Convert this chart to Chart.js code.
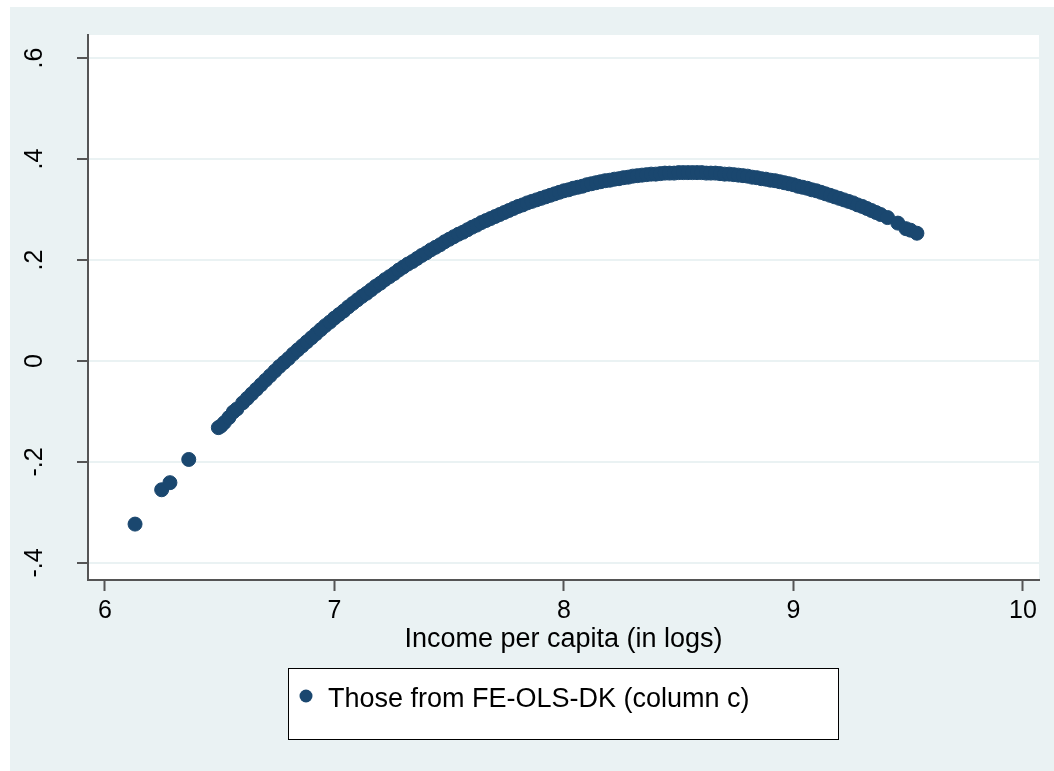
<!DOCTYPE html>
<html lang="en">
<head>
<meta charset="UTF-8" />
<title>Income per capita</title>
<script src="https://cdn.jsdelivr.net/npm/chart.js@4.4.0/dist/chart.umd.min.js"></script>
<style>
  body { margin: 0; background: #fff; }
  #board {
    position: absolute;
    left: 10px;
    top: 7px;
    width: 1044px;
    height: 764px;
    background: #eaf2f3;
  }
</style>
</head>
<body>
<div id="board">
  <canvas id="chart1"></canvas>
</div>
<script>
// x = log income per capita, y = fitted effect
const incomeLog = [
  6.131, 6.247, 6.283, 6.365, 6.494, 6.505, 6.52, 6.54, 6.559, 6.575, 6.60,
  6.62, 6.64, 6.66, 6.68, 6.70, 6.72, 6.74, 6.76, 6.78, 6.80,
  6.82, 6.84, 6.86, 6.88, 6.90, 6.92, 6.94, 6.96, 6.98, 7.00,
  7.02, 7.04, 7.06, 7.08, 7.10, 7.12, 7.14, 7.16, 7.18, 7.20,
  7.22, 7.24, 7.26, 7.28, 7.30, 7.32, 7.34, 7.36, 7.38, 7.40,
  7.42, 7.44, 7.46, 7.48, 7.50, 7.52, 7.54, 7.56, 7.58, 7.60,
  7.62, 7.64, 7.66, 7.68, 7.70, 7.72, 7.74, 7.76, 7.78, 7.80,
  7.82, 7.84, 7.86, 7.88, 7.90, 7.92, 7.94, 7.96, 7.98, 8.00,
  8.02, 8.04, 8.06, 8.08, 8.10, 8.12, 8.14, 8.16, 8.18, 8.20,
  8.22, 8.24, 8.26, 8.28, 8.30, 8.32, 8.34, 8.36, 8.38, 8.40,
  8.42, 8.44, 8.46, 8.48, 8.50, 8.52, 8.54, 8.56, 8.58, 8.60,
  8.62, 8.64, 8.66, 8.68, 8.70, 8.72, 8.74, 8.76, 8.78, 8.80,
  8.82, 8.84, 8.86, 8.88, 8.90, 8.92, 8.94, 8.96, 8.98, 9.00,
  9.02, 9.04, 9.06, 9.08, 9.10, 9.12, 9.14, 9.16, 9.18, 9.20,
  9.22, 9.24, 9.26, 9.28, 9.30, 9.32, 9.34, 9.36, 9.38,
  9.41, 9.455, 9.49, 9.51, 9.538
];
const effectValues = [
  -0.323, -0.255, -0.241, -0.195, -0.132, -0.129, -0.122, -0.112, -0.101, -0.095, -0.083,
  -0.074, -0.065, -0.056, -0.047, -0.038, -0.029, -0.020, -0.011, -0.003, 0.005,
  0.014, 0.022, 0.030, 0.038, 0.046, 0.054, 0.062, 0.070, 0.077, 0.085,
  0.092, 0.099, 0.107, 0.114, 0.121, 0.128, 0.134, 0.141, 0.148, 0.154,
  0.161, 0.167, 0.173, 0.180, 0.186, 0.192, 0.197, 0.203, 0.209, 0.214,
  0.220, 0.225, 0.230, 0.236, 0.241, 0.246, 0.251, 0.255, 0.260, 0.265,
  0.269, 0.274, 0.278, 0.282, 0.286, 0.290, 0.294, 0.298, 0.302, 0.306,
  0.309, 0.313, 0.316, 0.319, 0.322, 0.325, 0.328, 0.331, 0.334, 0.337,
  0.339, 0.342, 0.344, 0.346, 0.349, 0.351, 0.353, 0.355, 0.357, 0.358,
  0.360, 0.361, 0.363, 0.364, 0.366, 0.367, 0.368, 0.369, 0.370, 0.370,
  0.371, 0.372, 0.372, 0.372, 0.373, 0.373, 0.373, 0.373, 0.373, 0.373,
  0.372, 0.372, 0.372, 0.371, 0.370, 0.370, 0.369, 0.368, 0.367, 0.366,
  0.364, 0.363, 0.361, 0.360, 0.358, 0.357, 0.355, 0.353, 0.351, 0.349,
  0.346, 0.344, 0.342, 0.339, 0.337, 0.334, 0.331, 0.328, 0.325, 0.322,
  0.319, 0.316, 0.313, 0.309, 0.306, 0.302, 0.298, 0.294, 0.290,
  0.284, 0.273, 0.262, 0.259, 0.253
];

const xTicks = [6, 7, 8, 9, 10];
const xTickLabels = ['6', '7', '8', '9', '10'];
const yTicks = [-0.4, -0.2, 0, 0.2, 0.4, 0.6];
const yTickLabels = ['-.4', '-.2', '0', '.2', '.4', '.6'];
const xTitle = 'Income per capita (in logs)';
const seriesName = 'Those from FE-OLS-DK (column c)';

const navy = '#1a476f';
const fontFam = '"Liberation Sans", Arial, sans-serif';

// white plot region, rotated y labels, x title and boxed legend (Stata look)
const stataBits = {
  id: 'stataBits',
  beforeDraw(chart) {
    const { ctx, chartArea: a } = chart;
    ctx.save();
    ctx.fillStyle = '#fff';
    ctx.fillRect(a.left, a.top, a.right - a.left, a.bottom - a.top);
    ctx.restore();
  },
  afterDraw(chart) {
    const { ctx, chartArea: a } = chart;
    const ys = chart.scales.y;
    ctx.save();
    ctx.fillStyle = '#000';
    ctx.font = '25px ' + fontFam;
    ctx.textAlign = 'center';
    ctx.textBaseline = 'alphabetic';
    yTicks.forEach((v, i) => {
      ctx.save();
      ctx.translate(a.left - 46, ys.getPixelForValue(v));
      ctx.rotate(-Math.PI / 2);
      ctx.fillText(yTickLabels[i], 0, 0);
      ctx.restore();
    });

    ctx.font = '27px ' + fontFam;
    ctx.fillText(xTitle, (a.left + a.right) / 2, 640);

    // legend box
    ctx.fillStyle = '#fff';
    ctx.fillRect(278, 661, 551, 72);
    ctx.strokeStyle = '#000';
    ctx.lineWidth = 1;
    ctx.strokeRect(278.5, 661.5, 550, 71);
    ctx.fillStyle = navy;
    ctx.beginPath();
    ctx.arc(296, 689, 6.5, 0, Math.PI * 2);
    ctx.fill();
    ctx.fillStyle = '#000';
    ctx.textAlign = 'left';
    ctx.font = '27px ' + fontFam;
    ctx.fillText(seriesName, 318, 700);
    ctx.restore();
  }
};

new Chart(document.getElementById('chart1'), {
  type: 'scatter',
  data: {
    datasets: [{
      label: seriesName,
      data: incomeLog.map((x, i) => ({ x: x, y: effectValues[i] })),
      backgroundColor: navy,
      borderColor: navy,
      borderWidth: 1,
      pointRadius: 7,
    }]
  },
  options: {
    animation: false,
    responsive: true,
    maintainAspectRatio: false,
    layout: { padding: { left: 0, top: 28, right: 15, bottom: 0 } },
    plugins: { legend: { display: false }, tooltip: { enabled: false } },
    scales: {
      x: {
        type: 'linear',
        min: 5.926,
        max: 10.07,
        afterBuildTicks: s => { s.ticks = xTicks.map(v => ({ value: v })); },
        afterFit: s => { s.height = 191; },
        grid: { drawOnChartArea: false, drawTicks: true, tickLength: 11, tickColor: '#555', tickWidth: 2 },
        border: { color: '#555', width: 2 },
        ticks: {
          color: '#000',
          padding: 5,
          font: { size: 25, family: fontFam },
          callback: (v, i) => xTickLabels[i]
        }
      },
      y: {
        type: 'linear',
        min: -0.4337,
        max: 0.6455,
        afterBuildTicks: s => { s.ticks = yTicks.map(v => ({ value: v })); },
        afterFit: s => { s.width = 78; },
        grid: { color: '#eaf2f3', lineWidth: 2, drawTicks: true, tickLength: 11, tickColor: '#555', tickWidth: 2 },
        border: { color: '#555', width: 2 },
        ticks: { display: false }
      }
    }
  },
  plugins: [stataBits]
});
</script>
</body>
</html>
